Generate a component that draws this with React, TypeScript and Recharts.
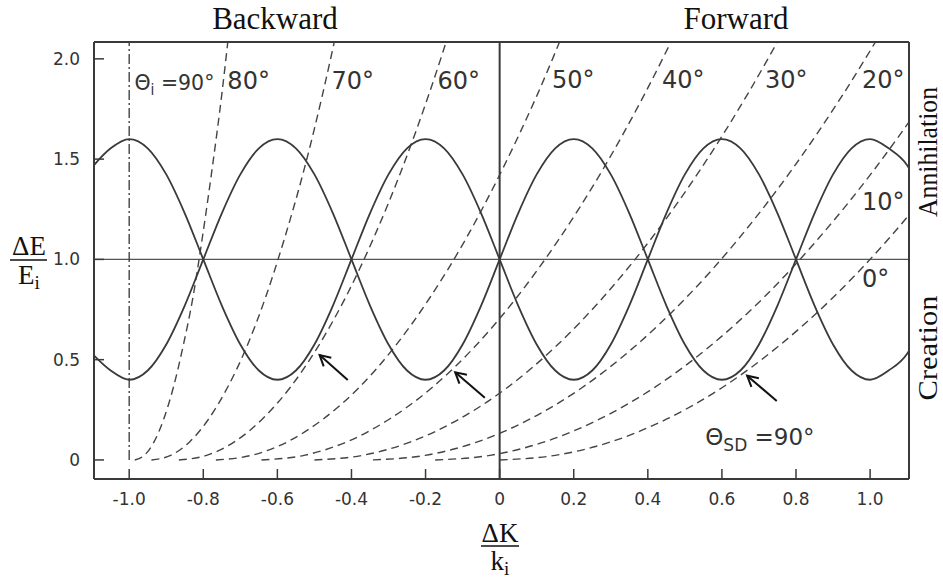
import { LineChart, Line, XAxis, YAxis, ReferenceLine, ReferenceDot } from 'recharts'

// ─── data ───────────────────────────────────────────────────────────────────
// x positions (ΔK/ki) of the two solid curves
const sineX = [
  -1.1, -1.05, -1.0, -0.95, -0.9, -0.85, -0.8, -0.75, -0.7, -0.65, -0.6, -0.55,
  -0.5, -0.45, -0.4, -0.35, -0.3, -0.25, -0.2, -0.15, -0.1, -0.05, 0, 0.05,
  0.1, 0.15, 0.2, 0.25, 0.3, 0.35, 0.4, 0.45, 0.5, 0.55, 0.6, 0.65,
  0.7, 0.75, 0.8, 0.85, 0.9, 0.95, 1.0, 1.05, 1.1, 1.15,
]
const sineUpper = [
  1.46, 1.554, 1.6, 1.554, 1.424, 1.23, 1.0, 0.77, 0.576, 0.446, 0.4, 0.446,
  0.576, 0.77, 1.0, 1.23, 1.424, 1.554, 1.6, 1.554, 1.424, 1.23, 1.0, 0.77,
  0.576, 0.446, 0.4, 0.446, 0.576, 0.77, 1.0, 1.23, 1.424, 1.554, 1.6, 1.554,
  1.424, 1.23, 1.0, 0.77, 0.576, 0.446, 0.4, 0.446, 0.53, 0.72,
]
const sineLower = [
  0.53, 0.446, 0.4, 0.446, 0.576, 0.77, 1.0, 1.23, 1.424, 1.554, 1.6, 1.554,
  1.424, 1.23, 1.0, 0.77, 0.576, 0.446, 0.4, 0.446, 0.576, 0.77, 1.0, 1.23,
  1.424, 1.554, 1.6, 1.554, 1.424, 1.23, 1.0, 0.77, 0.576, 0.446, 0.4, 0.446,
  0.576, 0.77, 1.0, 1.23, 1.424, 1.554, 1.6, 1.554, 1.47, 1.28,
]

// ΔE/Ei levels shared by the dashed Θi curves
const curveY = [0, 0.023, 0.09, 0.203, 0.36, 0.563, 0.81, 1.103, 1.44, 1.823, 2.25]
const theta80X = [-0.985, -0.959, -0.933, -0.907, -0.881, -0.855, -0.828, -0.803, -0.777, -0.75, -0.724]
const theta70X = [-0.94, -0.888, -0.837, -0.786, -0.735, -0.683, -0.632, -0.581, -0.529, -0.478, -0.427]
const theta60X = [-0.866, -0.791, -0.716, -0.641, -0.566, -0.491, -0.416, -0.341, -0.266, -0.191, -0.116]
const theta50X = [-0.766, -0.67, -0.573, -0.477, -0.38, -0.284, -0.188, -0.091, 0.005, 0.102, 0.198]
const theta40X = [-0.643, -0.528, -0.413, -0.298, -0.183, -0.068, 0.046, 0.161, 0.276, 0.391, 0.506]
const theta30X = [-0.5, -0.37, -0.24, -0.11, 0.02, 0.15, 0.279, 0.409, 0.539, 0.669, 0.799]
const theta20X = [-0.342, -0.201, -0.06, 0.081, 0.222, 0.363, 0.504, 0.645, 0.786, 0.927, 1.068]
const theta10X = [-0.174, -0.026, 0.121, 0.269, 0.417, 0.565, 0.713, 0.86, 1.008, 1.156, 1.303]
const theta0X = [0, 0.15, 0.3, 0.45, 0.6, 0.75, 0.9, 1.05, 1.2, 1.35, 1.5]
const theta90X = [-1.0, -1.0]
const theta90Y = [0, 2.25]

const xTicks = [-1.0, -0.8, -0.6, -0.4, -0.2, 0, 0.2, 0.4, 0.6, 0.8, 1.0]
const yTicks = [0, 0.5, 1.0, 1.5, 2.0]

// angle labels inside the plot
const angleText = ['80°', '70°', '60°', '50°', '40°', '30°', '20°', '10°', '0°']
const angleTextX = [-0.735, -0.454, -0.168, 0.141, 0.438, 0.716, 0.978, 0.978, 0.978]
const angleTextY = [1.85, 1.85, 1.85, 1.853, 1.853, 1.853, 1.853, 1.246, 0.862]

// arrows pointing at the crossings
const arrowTailX = [-0.41, -0.04, 0.748]
const arrowTailY = [0.399, 0.31, 0.294]
const arrowTipX = [-0.486, -0.12, 0.668]
const arrowTipY = [0.523, 0.437, 0.42]

const sineData = sineX.map((x, i) => ({ x, a: sineUpper[i], b: sineLower[i] }))
const toPts = (xs: number[], ys: number[]) => xs.map((x, i) => ({ x, y: ys[i] }))
const dashed = [theta80X, theta70X, theta60X, theta50X, theta40X, theta30X, theta20X, theta10X, theta0X]

const ink = '#3a3a3a'
const tickFont = '"DejaVu Sans", sans-serif'
const serif = '"Liberation Serif", "Times New Roman", serif'
const fmt = (v: number) => (v === 0 ? '0' : v.toFixed(1))

function Arrow(p: any) {
  const { x1, y1, x2, y2 } = p
  const ang = Math.atan2(y2 - y1, x2 - x1)
  const len = 12
  const s = 0.5
  const ax = x2 - len * Math.cos(ang - s)
  const ay = y2 - len * Math.sin(ang - s)
  const bx = x2 - len * Math.cos(ang + s)
  const by = y2 - len * Math.sin(ang + s)
  return (
    <g>
      <line x1={x1} y1={y1} x2={x2} y2={y2} stroke="#111" strokeWidth={2} />
      <polyline points={`${ax},${ay} ${x2},${y2} ${bx},${by}`} fill="none" stroke="#111" strokeWidth={2} />
    </g>
  )
}

const textAt = (render: (x: number, y: number) => any) => (props: any) => {
  const vb = props.viewBox || {}
  const x = (vb.x ?? 0) + (vb.width ?? 0) / 2
  const y = (vb.y ?? 0) + (vb.height ?? 0) / 2
  return render(x, y)
}

export default function App() {
  return (
    <div style={{ position: 'absolute', left: 0, top: 0, width: 943, height: 578, background: '#fff' }}>
      <LineChart width={943} height={578} margin={{ top: 32, right: 24, bottom: 59, left: 34 }}>
        <XAxis
          dataKey="x"
          type="number"
          domain={[-1.095, 1.105]}
          allowDataOverflow
          ticks={xTicks}
          interval={0}
          tickFormatter={fmt}
          height={40}
          tickSize={-10}
          tickMargin={24}
          axisLine={{ stroke: ink, strokeWidth: 2 }}
          tickLine={{ stroke: ink, strokeWidth: 1.5 }}
          tick={{ fontSize: 17, fill: '#333', fontFamily: tickFont }}
        />
        <XAxis
          xAxisId="top"
          orientation="top"
          dataKey="x"
          type="number"
          domain={[-1.095, 1.105]}
          allowDataOverflow
          ticks={xTicks}
          interval={0}
          height={10}
          tick={false}
          tickSize={-10}
          axisLine={{ stroke: ink, strokeWidth: 2 }}
          tickLine={{ stroke: ink, strokeWidth: 1.5 }}
        />
        <YAxis
          type="number"
          domain={[-0.095, 2.084]}
          allowDataOverflow
          ticks={yTicks}
          interval={0}
          tickFormatter={fmt}
          width={60}
          tickSize={-10}
          tickMargin={24}
          axisLine={{ stroke: ink, strokeWidth: 2 }}
          tickLine={{ stroke: ink, strokeWidth: 1.5 }}
          tick={{ fontSize: 17, fill: '#333', fontFamily: tickFont }}
        />
        <YAxis
          yAxisId="right"
          orientation="right"
          type="number"
          domain={[-0.095, 2.084]}
          allowDataOverflow
          ticks={yTicks}
          interval={0}
          width={10}
          tick={false}
          tickSize={-10}
          axisLine={{ stroke: ink, strokeWidth: 2 }}
          tickLine={{ stroke: ink, strokeWidth: 1.5 }}
        />

        <ReferenceLine y={1} stroke="#555" strokeWidth={1.3} />
        <ReferenceLine x={0} stroke={ink} strokeWidth={2} />

        <Line
          data={toPts(theta90X, theta90Y)}
          dataKey="y"
          type="linear"
          stroke="#444"
          strokeWidth={1.4}
          strokeDasharray="10 3 2 3"
          dot={false}
          isAnimationActive={false}
        />
        {dashed.map((xs, i) => (
          <Line
            key={i}
            data={toPts(xs, curveY)}
            dataKey="y"
            type="monotone"
            stroke="#444"
            strokeWidth={1.4}
            strokeDasharray="8 5"
            dot={false}
            isAnimationActive={false}
          />
        ))}
        <Line data={sineData} dataKey="a" type="monotone" stroke={ink} strokeWidth={1.8} dot={false} isAnimationActive={false} />
        <Line data={sineData} dataKey="b" type="monotone" stroke={ink} strokeWidth={1.8} dot={false} isAnimationActive={false} />

        {arrowTailX.map((x, i) => (
          <ReferenceLine
            key={'ar' + i}
            segment={[
              { x, y: arrowTailY[i] },
              { x: arrowTipX[i], y: arrowTipY[i] },
            ]}
            shape={Arrow}
          />
        ))}

        <ReferenceDot
          x={-0.986}
          y={1.843}
          r={0}
          fill="none"
          stroke="none"
          label={textAt((x, y) => (
            <text x={x} y={y} fontFamily={tickFont} fontSize={22} fill="#333" textLength={80} lengthAdjust="spacingAndGlyphs">
              Θ<tspan fontSize={15} dy={5}>i</tspan>
              <tspan dy={-5}> =90°</tspan>
            </text>
          ))}
        />
        {angleText.map((t, i) => (
          <ReferenceDot
            key={'lb' + i}
            x={angleTextX[i]}
            y={angleTextY[i]}
            r={0}
            fill="none"
            stroke="none"
            label={textAt((x, y) => (
              <text x={x} y={y} fontFamily={tickFont} fontSize={24} fill="#333">
                {t}
              </text>
            ))}
          />
        ))}
        <ReferenceDot
          x={0.555}
          y={0.075}
          r={0}
          fill="none"
          stroke="none"
          label={textAt((x, y) => (
            <text x={x} y={y} fontFamily={tickFont} fontSize={23} fill="#333">
              Θ<tspan fontSize={17} dy={6}>SD</tspan>
              <tspan dy={-6}> =90°</tspan>
            </text>
          ))}
        />
      </LineChart>

      <svg width={943} height={578} style={{ position: 'absolute', left: 0, top: 0, pointerEvents: 'none' }}>
        <g fontFamily={serif} fill="#111">
          <text x={275} y={29} fontSize={31} textAnchor="middle">Backward</text>
          <text x={736} y={29} fontSize={31} textAnchor="middle">Forward</text>

          <text x={29} y={255} fontSize={27} textAnchor="middle">ΔE</text>
          <line x1={10} y1={260} x2={47} y2={260} stroke="#111" strokeWidth={1.5} />
          <text x={29} y={284} fontSize={27} textAnchor="middle">
            E<tspan fontSize={19} dy={5}>i</tspan>
          </text>

          <text x={500} y={542} fontSize={27} textAnchor="middle">ΔK</text>
          <line x1={481} y1={546} x2={519} y2={546} stroke="#111" strokeWidth={1.5} />
          <text x={500} y={570} fontSize={27} textAnchor="middle">
            k<tspan fontSize={19} dy={5}>i</tspan>
          </text>

          <text
            x={937}
            y={152}
            fontSize={27}
            textAnchor="middle"
            textLength={130}
            lengthAdjust="spacingAndGlyphs"
            transform="rotate(-90 937 152)"
          >
            Annihilation
          </text>
          <text
            x={937}
            y={348}
            fontSize={27}
            textAnchor="middle"
            textLength={105}
            lengthAdjust="spacingAndGlyphs"
            transform="rotate(-90 937 348)"
          >
            Creation
          </text>
        </g>
      </svg>
    </div>
  )
}
